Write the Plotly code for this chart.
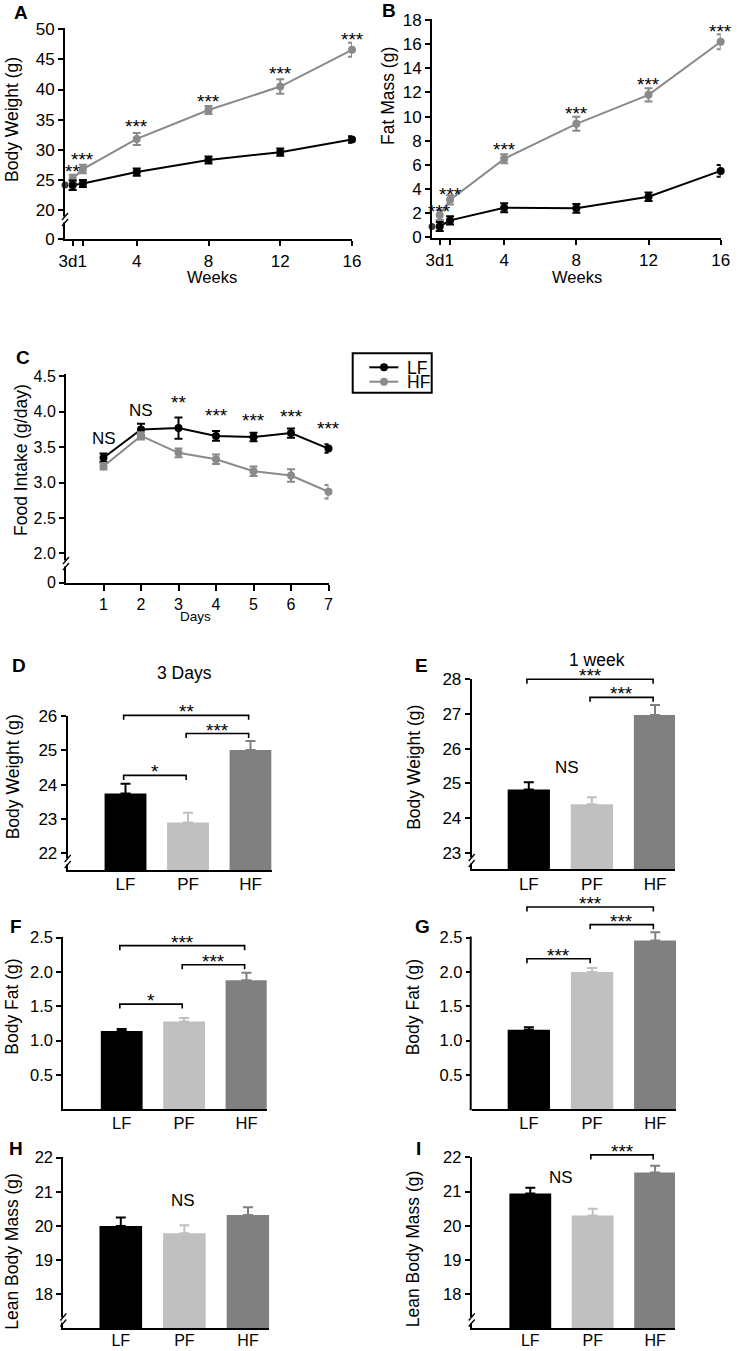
import plotly.graph_objects as go

W, H = 738, 1351
FONT = "Liberation Sans, Arial, sans-serif"
BLACK = "#000000"
GREY = "#8a8a8a"
BAR_COLORS = ["#000000", "#c0c0c0", "#808080"]

# ---------------- data ----------------
weeks = [3 / 7, 1, 4, 8, 12, 16]
# "3d" and "1" are printed run together under the first two ticks, as in the source figure
week_labels = ["3d1", "", "4", "8", "12", "16"]

bw_start = 24.15
bw_lf = [24.1, 24.4, 26.3, 28.3, 29.6, 31.7]
bw_lf_err = [0.8, 0.6, 0.6, 0.6, 0.6, 0.55]
bw_hf = [25.2, 26.8, 31.8, 36.6, 40.5, 46.6]
bw_hf_err = [0.65, 0.7, 1.0, 0.65, 1.2, 1.15]
bw_sig = ["**", "***", "***", "***", "***", "***"]
bw_sig_y = [27.1, 29.0, 34.6, 38.65, 43.25, 48.9]

fm_start = 0.9
fm_lf = [0.9, 1.4, 2.45, 2.4, 3.36, 5.5]
fm_lf_err = [0.37, 0.35, 0.37, 0.36, 0.35, 0.48]
fm_hf = [1.85, 3.1, 6.5, 9.4, 11.8, 16.2]
fm_hf_err = [0.41, 0.39, 0.37, 0.58, 0.55, 0.62]
fm_sig = ["***", "***", "***", "***", "***", "***"]
fm_sig_y = [2.43, 3.84, 7.59, 10.55, 12.97, 17.4]

days = [1, 2, 3, 4, 5, 6, 7]
fi_lf = [3.35, 3.75, 3.77, 3.66, 3.645, 3.70, 3.48]
fi_lf_err = [0.06, 0.08, 0.15, 0.07, 0.06, 0.066, 0.06]
fi_hf = [3.23, 3.66, 3.42, 3.33, 3.16, 3.10, 2.87]
fi_hf_err = [0.047, 0.05, 0.063, 0.068, 0.066, 0.087, 0.094]
fi_sig = ["NS", "NS", "**", "***", "***", "***", "***"]
fi_sig_y = [3.63, 4.02, 4.19, 4.0, 3.94, 3.99, 3.82]

groups = ["LF", "PF", "HF"]
d_bw = [23.74, 22.9, 25.01]
d_bw_err = [0.29, 0.28, 0.26]
e_bw = [24.82, 24.4, 26.97]
e_bw_err = [0.21, 0.2, 0.29]
f_fat = [1.14, 1.28, 1.88]
f_fat_err = [0.03, 0.05, 0.11]
g_fat = [1.16, 2.0, 2.46]
g_fat_err = [0.035, 0.06, 0.12]
h_lean = [20.0, 19.79, 20.32]
h_lean_err = [0.25, 0.23, 0.23]
i_lean = [20.94, 20.3, 21.56]
i_lean_err = [0.17, 0.2, 0.19]

# significance brackets: (from group, to group, level, label)
d_brackets = [(0, 1, 24.27, "*"), (1, 2, 25.49, "***"), (0, 2, 26.02, "**")]
e_brackets = [(0, 2, 28.0, "***"), (1, 2, 27.48, "***")]
f_brackets = [(0, 1, 1.533, "*"), (1, 2, 2.107, "***"), (0, 2, 2.384, "***")]
g_brackets = [(0, 1, 2.194, "***"), (1, 2, 2.69, "***"), (0, 2, 2.946, "***")]
h_brackets = []
i_brackets = [(1, 2, 22.07, "***")]
ns_labels = {"E": (0.6, 25.45), "H": (0.98, 20.74), "I": (0.5, 21.41)}
legend_names = ["LF", "HF"]

# ---------------- layout geometry (pixels) ----------------
panels = {
    "A": dict(n=1, xpx=(65, 352), xr=(0, 16), ypx=(28, 239.3), yr=(15.135, 50.216)),
    "B": dict(n=2, xpx=(432, 720.7), xr=(0, 16), ypx=(18.5, 238.3), yr=(-0.083, 18.124)),
    "C": dict(n=3, xpx=(66, 328.5), xr=(0, 7), ypx=(374, 582.7), yr=(1.584, 4.535)),
    "D": dict(n=4, xpx=(67.7, 271.7), xr=(-0.925, 2.339), ypx=(715.5, 870), yr=(21.514, 26.015)),
    "E": dict(n=5, xpx=(471.7, 675), xr=(-0.905, 2.317), ypx=(679, 869.3), yr=(22.521, 28.009)),
    "F": dict(n=6, xpx=(63.3, 266.7), xr=(-0.936, 2.324), ypx=(936.5, 1109.3), yr=(0, 2.5175)),
    "G": dict(n=7, xpx=(471.7, 676), xr=(-0.904, 2.328), ypx=(920, 1109.3), yr=(0, 2.7578),
              ytop_line=936.5),
    "H": dict(n=8, xpx=(63.3, 269.3), xr=(-0.904, 2.335), ypx=(1157, 1328.3), yr=(17.004, 22.02)),
    "I": dict(n=9, xpx=(471.7, 675), xr=(-0.939, 2.319), ypx=(1157, 1328.3), yr=(17.007, 22.009)),
}


def ref(p):
    n = panels[p]["n"]
    return ("x", "y") if n == 1 else (f"x{n}", f"y{n}")


def axname(p):
    n = panels[p]["n"]
    return ("xaxis", "yaxis") if n == 1 else (f"xaxis{n}", f"yaxis{n}")


def to_paper(p, x, y):
    c = panels[p]
    x0, x1 = c["xpx"]
    a0, a1 = c["xr"]
    t, b = c["ypx"]
    v0, v1 = c["yr"]
    px = x0 + (x - a0) / (a1 - a0) * (x1 - x0)
    py = b - (y - v0) / (v1 - v0) * (b - t)
    return px / W, 1 - py / H


def px_per_unit(p):
    c = panels[p]
    t, b = c["ypx"]
    v0, v1 = c["yr"]
    return (b - t) / (v1 - v0)


fig = go.Figure()
shapes = []
annotations = []

axis_common = dict(
    showline=True, linecolor=BLACK, linewidth=2, ticks="outside", ticklen=5,
    tickwidth=2, tickcolor=BLACK, showgrid=False, zeroline=False,
    fixedrange=True, tickangle=0, automargin=False,
)

ytick_specs = {
    "A": ([15.135, 20, 25, 30, 35, 40, 45, 50], ["0", "20", "25", "30", "35", "40", "45", "50"]),
    "B": ([0, 2, 4, 6, 8, 10, 12, 14, 16, 18], ["0", "2", "4", "6", "8", "10", "12", "14", "16", "18"]),
    "C": ([1.584, 2.0, 2.5, 3.0, 3.5, 4.0, 4.5], ["0", "2.0", "2.5", "3.0", "3.5", "4.0", "4.5"]),
    "D": ([22, 23, 24, 25, 26], ["22", "23", "24", "25", "26"]),
    "E": ([23, 24, 25, 26, 27, 28], ["23", "24", "25", "26", "27", "28"]),
    "F": ([0.5, 1.0, 1.5, 2.0, 2.5], ["0.5", "1.0", "1.5", "2.0", "2.5"]),
    "G": ([0.5, 1.0, 1.5, 2.0, 2.5], ["0.5", "1.0", "1.5", "2.0", "2.5"]),
    "H": ([18, 19, 20, 21, 22], ["18", "19", "20", "21", "22"]),
    "I": ([18, 19, 20, 21, 22], ["18", "19", "20", "21", "22"]),
}
tick_font_size = {"A": 17, "B": 17, "C": 16, "D": 17, "E": 17, "F": 16.5, "G": 16.5, "H": 16.5, "I": 16.5}
xlabel_standoff = {"D": -2, "E": -2, "F": -2, "G": -2, "H": -4, "I": -4}

layout_axes = {}
for p, c in panels.items():
    xa, ya = axname(p)
    xr_, yr_ = ref(p)
    fs = tick_font_size[p]
    xd = dict(axis_common)
    xd.update(domain=[c["xpx"][0] / W, c["xpx"][1] / W], range=list(c["xr"]), anchor=yr_,
              tickfont=dict(size=fs, color=BLACK, family=FONT))
    if p in ("A", "B"):
        xd.update(tickmode="array", tickvals=weeks, ticktext=week_labels)
    elif p == "C":
        xd.update(tickmode="array", tickvals=days, ticktext=[str(d) for d in days], ticklen=6)
    else:
        xd.update(tickmode="array", tickvals=[0, 1, 2], ticktext=groups, ticks="",
                  ticklabelstandoff=xlabel_standoff[p])
        if p in ("H", "I"):
            xd["tickfont"] = dict(size=16, color=BLACK, family=FONT)
    yd = dict(axis_common)
    yd.update(domain=[1 - c["ypx"][1] / H, 1 - c["ypx"][0] / H], range=list(c["yr"]), anchor=xr_,
              tickmode="array", tickvals=ytick_specs[p][0], ticktext=ytick_specs[p][1],
              tickfont=dict(size=fs, color=BLACK, family=FONT))
    if "ytop_line" in c:
        # axis line drawn as a shape so that the error bar can exceed the top tick
        yd["showline"] = False
        shapes.append(dict(type="line", xref="paper", yref="paper",
                           x0=(c["xpx"][0] - 1) / W, x1=(c["xpx"][0] - 1) / W,
                           y0=1 - c["ytop_line"] / H, y1=1 - (c["ypx"][1] + 1) / H,
                           line=dict(color=BLACK, width=2), layer="above"))
    layout_axes[xa] = xd
    layout_axes[ya] = yd


def line_trace(p, x, y, err, color, name):
    xr_, yr_ = ref(p)
    return go.Scatter(
        x=x, y=y, mode="lines+markers", name=name, showlegend=False,
        line=dict(color=color, width=2), marker=dict(color=color, size=8),
        error_y=dict(type="data", array=err, color=color, thickness=2, width=4),
        xaxis=xr_, yaxis=yr_, cliponaxis=False, hoverinfo="skip",
    )


# Panel A
fig.add_trace(line_trace("A", weeks, bw_hf, bw_hf_err, GREY, "HF"))
fig.add_trace(line_trace("A", weeks, bw_lf, bw_lf_err, BLACK, "LF"))
fig.add_trace(go.Scatter(x=[0], y=[bw_start], mode="markers", marker=dict(color="#3c3c3c", size=7),
                         xaxis="x", yaxis="y", showlegend=False, cliponaxis=False, hoverinfo="skip"))
# Panel B
fig.add_trace(line_trace("B", weeks, fm_hf, fm_hf_err, GREY, "HF"))
fig.add_trace(line_trace("B", weeks, fm_lf, fm_lf_err, BLACK, "LF"))
fig.add_trace(go.Scatter(x=[0], y=[fm_start], mode="markers", marker=dict(color="#3c3c3c", size=7),
                         xaxis="x2", yaxis="y2", showlegend=False, cliponaxis=False, hoverinfo="skip"))
# Panel C
fig.add_trace(line_trace("C", days, fi_lf, fi_lf_err, BLACK, "LF"))
fig.add_trace(line_trace("C", days, fi_hf, fi_hf_err, GREY, "HF"))


def star_ann(p, x, y, text):
    xr_, yr_ = ref(p)
    is_ns = text == "NS"
    annotations.append(dict(
        x=x, y=y, xref=xr_, yref=yr_, text=text, showarrow=False,
        font=dict(size=17 if is_ns else 19, color=BLACK, family=FONT),
        xanchor="center", yanchor="middle", yshift=0 if is_ns else -4,
    ))


for x, y, t in zip(weeks, bw_sig_y, bw_sig):
    star_ann("A", x, y, t)
for x, y, t in zip(weeks, fm_sig_y, fm_sig):
    star_ann("B", x, y, t)
for x, y, t in zip(days, fi_sig_y, fi_sig):
    star_ann("C", x, y, t)

# Bar panels
bar_data = {
    "D": (d_bw, d_bw_err, d_brackets),
    "E": (e_bw, e_bw_err, e_brackets),
    "F": (f_fat, f_fat_err, f_brackets),
    "G": (g_fat, g_fat_err, g_brackets),
    "H": (h_lean, h_lean_err, h_brackets),
    "I": (i_lean, i_lean_err, i_brackets),
}
for p, (vals, errs, brackets) in bar_data.items():
    xr_, yr_ = ref(p)
    for k, g in enumerate(groups):
        fig.add_trace(go.Bar(
            x=[k], y=[vals[k]], width=0.67, name=g, showlegend=False,
            marker=dict(color=BAR_COLORS[k], line=dict(width=0)),
            error_y=dict(type="data", symmetric=False, array=[errs[k]], arrayminus=[0],
                         color=BAR_COLORS[k], thickness=2, width=5),
            xaxis=xr_, yaxis=yr_, hoverinfo="skip",
        ))
    k_px = px_per_unit(p)
    drop = 4.5 / k_px
    for i, j, lev, lab in brackets:
        xa0, xa1 = i - 0.03, j - 0.03
        pts = [to_paper(p, xa0, lev - drop), to_paper(p, xa0, lev),
               to_paper(p, xa1, lev), to_paper(p, xa1, lev - drop)]
        path = "M " + " L ".join(f"{a:.5f},{b:.5f}" for a, b in pts)
        shapes.append(dict(type="path", path=path, xref="paper", yref="paper",
                           line=dict(color=BLACK, width=1.6), layer="above"))
        mx, my = to_paper(p, (xa0 + xa1) / 2, lev)
        annotations.append(dict(x=mx, y=my, xref="paper", yref="paper", text=lab, showarrow=False,
                                font=dict(size=19, color=BLACK, family=FONT),
                                xanchor="center", yanchor="middle", yshift=3.5))
for p, (x, y) in ns_labels.items():
    star_ann(p, x, y, "NS")


# axis break marks
def add_break(xp, yp):
    shapes.append(dict(type="rect", xref="paper", yref="paper",
                       x0=(xp - 2) / W, x1=(xp + 2) / W, y0=1 - (yp + 3) / H, y1=1 - (yp - 3) / H,
                       fillcolor="white", line=dict(width=0), layer="above"))
    for dy in (-3, 3):
        shapes.append(dict(type="line", xref="paper", yref="paper",
                           x0=(xp - 3) / W, y0=1 - (yp + dy + 3.5) / H,
                           x1=(xp + 3) / W, y1=1 - (yp + dy - 3.5) / H,
                           line=dict(color=BLACK, width=1.3), layer="above"))


add_break(65, 219.5)
add_break(66, 563.5)
add_break(67.7, 861.5)
add_break(471.7, 860.5)
add_break(63.3, 1320)
add_break(471.7, 1320)


def paper_text(xp, yp, text, size, bold=False, angle=0, xanchor="center"):
    annotations.append(dict(
        x=xp / W, y=1 - yp / H, xref="paper", yref="paper", showarrow=False,
        text=f"<b>{text}</b>" if bold else text, textangle=angle,
        font=dict(size=size, color=BLACK, family=FONT), xanchor=xanchor, yanchor="middle",
    ))


# legend for panel C (drawn in figure coordinates)
shapes.append(dict(type="rect", xref="paper", yref="paper",
                   x0=352.7 / W, x1=431.7 / W, y0=1 - 392.7 / H, y1=1 - 353.3 / H,
                   line=dict(color=BLACK, width=2), fillcolor="white", layer="above"))
for name, color, yp in zip(legend_names, [BLACK, GREY], [367.3, 381.7]):
    shapes.append(dict(type="line", xref="paper", yref="paper",
                       x0=369.3 / W, x1=398.3 / W, y0=1 - yp / H, y1=1 - yp / H,
                       line=dict(color=color, width=2), layer="above"))
    shapes.append(dict(type="circle", xref="paper", yref="paper",
                       x0=380 / W, x1=388 / W, y0=1 - (yp + 4) / H, y1=1 - (yp - 4) / H,
                       line=dict(color=color, width=0), fillcolor=color, layer="above"))
    paper_text(405, yp + 0.5, name, 17.5, xanchor="left")

# panel letters
for lab, (xp, yp) in {"A": (21, 12.5), "B": (389, 10), "C": (23.3, 357.5), "D": (19, 666),
                      "E": (421.7, 665), "F": (16, 926.7), "G": (422.5, 926.7),
                      "H": (16, 1148.5), "I": (418.5, 1148.5)}.items():
    paper_text(xp, yp, lab, 19, bold=True)

# axis titles
TS = 17.5
paper_text(12, 120, "Body Weight (g)", TS, angle=-90)
paper_text(388, 96, "Fat Mass (g)", TS, angle=-90)
paper_text(21, 460, "Food Intake (g/day)", TS, angle=-90)
paper_text(13.3, 777, "Body Weight (g)", TS, angle=-90)
paper_text(413.3, 767.5, "Body Weight (g)", TS, angle=-90)
paper_text(11.7, 1007, "Body Fat (g)", TS, angle=-90)
paper_text(413.3, 1007, "Body Fat (g)", TS, angle=-90)
paper_text(11.7, 1251, "Lean Body Mass (g)", TS, angle=-90)
paper_text(413.3, 1249, "Lean Body Mass (g)", TS, angle=-90)
paper_text(211.7, 277, "Weeks", 16.5)
paper_text(577, 277, "Weeks", 16.5)
paper_text(195, 616, "Days", 13.5)
paper_text(184.5, 673.3, "3 Days", 17.5)
paper_text(597, 659.7, "1 week", 17.5)

fig.update_layout(
    width=W, height=H, autosize=False,
    margin=dict(l=0, r=0, t=0, b=0, pad=0, autoexpand=False),
    paper_bgcolor="white", plot_bgcolor="white",
    font=dict(family=FONT, color=BLACK, size=16),
    barmode="overlay",
    showlegend=False,
    shapes=shapes,
    annotations=annotations,
    hovermode=False,
    **layout_axes,
)

fig.write_html(
    "out.html",
    config={"displayModeBar": False, "responsive": False},
    post_script="document.body.style.margin='0';document.body.style.padding='0';",
)
